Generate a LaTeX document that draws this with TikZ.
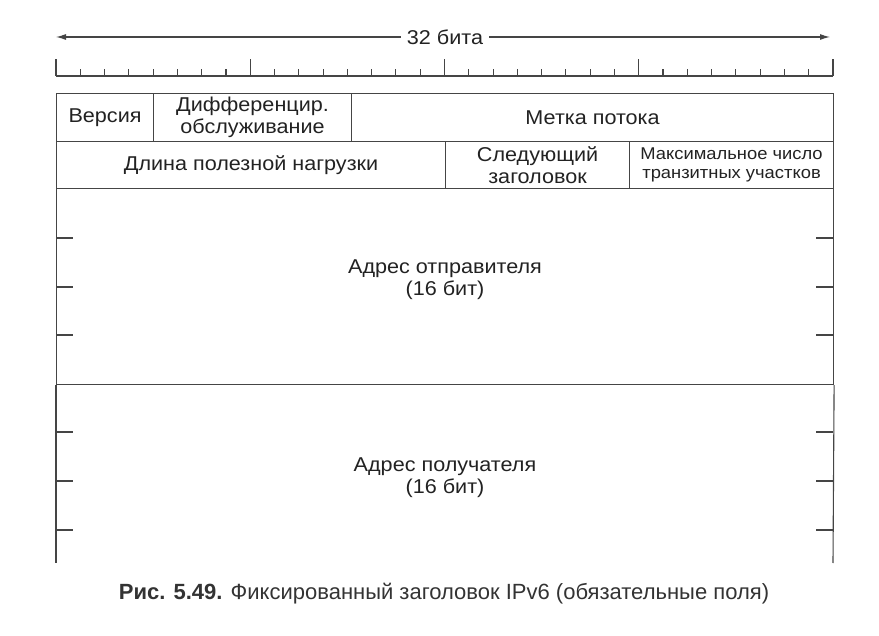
\documentclass[tikz,border=0pt]{standalone}
\usepackage{fontspec}
\setmainfont{Liberation Sans}[FakeStretch=1.08]
\newfontfamily\capfont{Liberation Sans}
\usetikzlibrary{arrows.meta}
\definecolor{ink}{HTML}{454545}
\definecolor{txt}{HTML}{222222}
\definecolor{captxt}{HTML}{333333}
\begin{document}
\begin{tikzpicture}[x=1pt,y=-1pt,line width=1.1pt]
\tikzset{
  field/.style={draw=ink, line width=1.1pt, anchor=north west, inner sep=0pt,
    align=center, text=txt, font=\fontsize{20}{22}\selectfont},
  small/.style={font=\fontsize{17}{18.5}\selectfont},
  label/.style={text=txt, align=center, inner sep=0pt, font=\fontsize{20}{22}\selectfont},
  tick/.style={draw=ink, line width=1.1pt}
}
\useasboundingbox (0,0) rectangle (879,636);

% width arrow
\coordinate (wl) at (56,37);
\coordinate (wr) at (830,37);
\draw[draw=ink, {Latex[length=10pt,width=6pt]}-{Latex[length=10pt,width=6pt]}] (wl) -- (wr);
\node[fill=white, inner xsep=6pt, text=txt, font=\fontsize{20}{22}\selectfont] (bits) at (445,37) {32 бита};

% bit ruler
\coordinate (r0) at (56,76);
\coordinate (r1) at (833,76);
\draw[tick] (r0) -- (r1);
\foreach \i in {0,...,32}{
  \pgfmathsetmacro{\xx}{56+\i*24.28125}
  \pgfmathsetmacro{\hh}{mod(\i,8)==0 ? 17 : 7}
  \draw[tick] (\xx,76) -- (\xx,76-\hh);
}

% row 1
\node[field, minimum width=97pt, minimum height=48pt] (ver) at (56,93) {Версия};
\node[field, minimum width=198pt, minimum height=48pt] (cls) at (153,93) {Дифференцир.\\обслуживание};
\node[field, minimum width=482pt, minimum height=48pt] (flow) at (351,93) {Метка потока};

% row 2
\node[field, minimum width=389pt, minimum height=47pt] (len) at (56,141) {Длина полезной нагрузки};
\node[field, minimum width=184pt, minimum height=47pt] (nxt) at (445,141) {Следующий\\заголовок};
\node[field, small, minimum width=204pt, minimum height=47pt] (hop) at (629,141) {Максимальное число\\транзитных участков};

% source address
\node[field, minimum width=777pt, minimum height=196pt] (src) at (56,188) {};
\node[label] (srct) at (445,280) {Адрес отправителя\\(16 бит)};
\foreach \y in {238,287,335}{
  \draw[tick] (56,\y) -- (73,\y);
  \draw[tick] (816,\y) -- (833,\y);
}

% destination address (continues below)
\coordinate (dl) at (56,563);
\coordinate (dr) at (833,563);
\draw[tick] (src.south west) -- (dl);
\draw[tick] (src.south east) -- (dr);
\node[label] (dstt) at (445,478) {Адрес получателя\\(16 бит)};
\foreach \y in {432,481,530}{
  \draw[tick] (56,\y) -- (73,\y);
  \draw[tick] (816,\y) -- (833,\y);
}

% caption
\node[text=captxt, inner sep=0pt, font=\capfont\fontsize{22}{24}\selectfont] (cap) at (444,594)
  {\textbf{Рис. 5.49.} Фиксированный заголовок IPv6 (обязательные поля)};
\end{tikzpicture}
\end{document}
